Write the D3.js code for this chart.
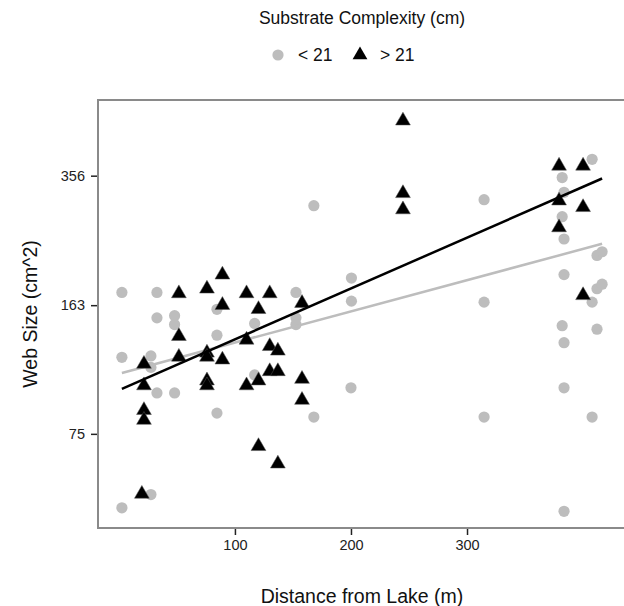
<!DOCTYPE html>
<html>
<head>
<meta charset="utf-8">
<script src="https://cdn.jsdelivr.net/npm/d3@7"></script>
<style>
  body { margin: 0; background: #fff; }
  svg { display: block; font-family: "Liberation Sans", Arial, sans-serif; }
</style>
</head>
<body>
<svg id="svg" width="624" height="606"></svg>
<script>
// Substrate complexity < 21 cm (grey circles)
const lowDist = [2.6, 2.6, 2.6, 27.6, 27.6, 27.6, 32.8, 32.8, 32.8, 48, 48, 48,
    84.5, 84.5, 84.5, 117, 117, 152.6, 152.6, 152.6, 168, 168, 200.4, 200.4, 200,
    314.7, 314.7, 314.7, 407.8, 382, 383.6, 382, 383.6, 412, 416.4, 383.6, 412,
    416.4, 407.8, 382, 412, 383.6, 383.6, 407.8, 383.6];
const lowSize = [176, 119, 48, 120, 112, 52, 176, 151, 96, 153, 145, 96,
    159, 136, 85, 146, 107, 176, 151, 145, 297, 83, 192, 167, 99,
    308, 166, 83, 393, 352, 322, 278, 243, 220, 225, 196, 180,
    185, 166, 144, 141, 130, 99, 83, 47];

// Substrate complexity > 21 cm (black triangles)
const highDist = [21.6, 21.6, 21.6, 21.6, 19.8, 51.7, 51.7, 51.7, 75.9, 75.9, 75.9,
    75.9, 75.9, 89.2, 89.2, 89.2, 110, 110, 110, 120.3, 120.3, 120.3, 130, 130, 130,
    137, 137, 137, 157.8, 157.8, 157.8, 244.8, 244.8, 244.8, 379.3, 400, 379.3, 400,
    379.3, 400];
const highSize = [115, 101, 87, 82, 52.5, 176, 136, 120, 181, 123, 120,
    104, 101, 197, 164, 118, 176, 133, 101, 160, 104, 70, 176, 128, 110,
    124.5, 110, 63, 166, 105, 92.5, 499, 322, 292, 380, 380, 308, 296,
    262, 174];

// Fitted lines: [start, end] distance and web size
const fitDist = [2.6, 416.4];
const fitLow = [108.3, 236];
const fitHigh = [98.4, 350];

const xTicks = [100, 200, 300];
const yTicks = [75, 163, 356];

const svg = d3.select("#svg");
const m = { left: 98, right: 626, top: 100, bottom: 528 };

const x = d3.scaleLinear().domain([-18, 437]).range([m.left, m.right]);
const y = d3.scaleLog().domain([42.5, 562]).range([m.bottom, m.top]);

const grey = "#bdbdbd";

// Frame
svg.append("rect")
    .attr("x", m.left).attr("y", m.top)
    .attr("width", m.right - m.left).attr("height", m.bottom - m.top)
    .attr("fill", "none")
    .attr("stroke", "#8a8a8a")
    .attr("stroke-width", 2);

// Axes
const xAxis = svg.append("g")
    .attr("transform", `translate(0,${m.bottom + 1})`)
    .call(d3.axisBottom(x).tickValues(xTicks).tickSize(6).tickPadding(5));
const yAxis = svg.append("g")
    .attr("transform", `translate(${m.left - 1},0)`)
    .call(d3.axisLeft(y).tickValues(yTicks).tickFormat(d3.format("d")).tickSize(6).tickPadding(6));

[xAxis, yAxis].forEach(a => {
    a.select(".domain").remove();
    a.selectAll(".tick line").attr("stroke", "#222").attr("stroke-width", 1.5);
    a.selectAll(".tick text").attr("fill", "#222").style("font-size", "14.5px");
});

// Points
svg.append("g").selectAll("circle")
    .data(lowDist.map((d, i) => [d, lowSize[i]]))
    .join("circle")
    .attr("cx", d => x(d[0]))
    .attr("cy", d => y(d[1]))
    .attr("r", 5.6)
    .attr("fill", grey);

// Fit lines
const line = d3.line().x(d => x(d[0])).y(d => y(d[1]));
svg.append("path")
    .attr("d", line(fitDist.map((d, i) => [d, fitLow[i]])))
    .attr("stroke", grey).attr("stroke-width", 2.5).attr("fill", "none");

svg.append("g").selectAll("path")
    .data(highDist.map((d, i) => [d, highSize[i]]))
    .join("path")
    .attr("transform", d => `translate(${x(d[0])},${y(d[1]) + 1})`)
    .attr("d", d3.symbol(d3.symbolTriangle, 95))
    .attr("fill", "#000")
    .attr("stroke", "#555")
    .attr("stroke-width", 0.5);

svg.append("path")
    .attr("d", line(fitDist.map((d, i) => [d, fitHigh[i]])))
    .attr("stroke", "#000").attr("stroke-width", 2.5).attr("fill", "none");

// Axis titles
svg.append("text")
    .attr("x", (m.left + m.right) / 2).attr("y", 603)
    .attr("text-anchor", "middle")
    .style("font-size", "19.5px").attr("fill", "#111")
    .text("Distance from Lake (m)");

svg.append("text")
    .attr("transform", `translate(37,${(m.top + m.bottom) / 2}) rotate(-90)`)
    .attr("text-anchor", "middle")
    .style("font-size", "19.5px").attr("fill", "#111")
    .text("Web Size (cm^2)");

// Legend
const legend = svg.append("g");
legend.append("text")
    .attr("x", (m.left + m.right) / 2).attr("y", 24)
    .attr("text-anchor", "middle")
    .style("font-size", "17.5px").attr("fill", "#111")
    .text("Substrate Complexity (cm)");

legend.append("circle")
    .attr("cx", 278).attr("cy", 55).attr("r", 5.6).attr("fill", grey);
legend.append("text")
    .attr("x", 298).attr("y", 61)
    .style("font-size", "17.5px").attr("fill", "#111")
    .text("< 21");
legend.append("path")
    .attr("transform", "translate(360,55)")
    .attr("d", d3.symbol(d3.symbolTriangle, 95))
    .attr("fill", "#000");
legend.append("text")
    .attr("x", 380).attr("y", 61)
    .style("font-size", "17.5px").attr("fill", "#111")
    .text("> 21");
</script>
</body>
</html>
